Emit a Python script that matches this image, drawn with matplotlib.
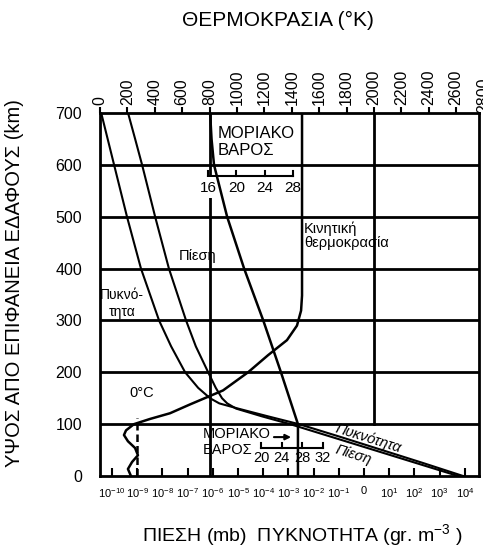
import matplotlib
matplotlib.use('Agg')
import matplotlib.pyplot as plt
from matplotlib.ticker import FixedLocator, FixedFormatter, NullLocator

plt.rcParams['font.family'] = ['Liberation Sans', 'DejaVu Sans']
plt.rcParams['mathtext.fontset'] = 'custom'
plt.rcParams['mathtext.rm'] = 'Liberation Sans'
plt.rcParams['mathtext.it'] = 'Liberation Sans:italic'
plt.rcParams['mathtext.bf'] = 'Liberation Sans:bold'

# axes scales
alt_ticks = [0, 100, 200, 300, 400, 500, 600, 700]
temp_ticks = list(range(0, 2801, 200))
p_exponents = list(range(-10, 5))
p_labels = ['0' if e == 0 else '$10^{%d}$' % e for e in p_exponents]

# kinetic temperature (K)
temp_alt = [0, 13.5, 27, 40, 54, 67, 79, 88, 100, 110, 121, 138, 165, 200, 233,
            262, 290, 319, 348, 700]
temp_k = [226, 204, 234, 277, 256, 204, 175, 190, 248, 365, 511, 657, 898, 1081,
          1227, 1365, 1438, 1468, 1475, 1475]

# pressure (mb)
pres_alt = [700, 650, 600, 500, 400, 300, 250, 200, 170, 150, 140, 130, 115, 100,
            75, 50, 25, 0]
pres_mb = [4.3e-10, 8.2e-10, 1.55e-9, 5.1e-9, 1.8e-8, 8.6e-8, 2.1e-7, 6.5e-7,
           1.3e-6, 2.3e-6, 3.7e-6, 8.3e-6, 8.9e-5, 1.16e-3, 5.4e-2, 2.5, 1.16e2, 5.4e3]

# density (g m-3)
dens_alt = [700, 600, 500, 400, 300, 250, 200, 170, 150, 140, 130, 115, 100, 75,
            50, 25, 0]
dens_gm3 = [3.7e-11, 1.2e-10, 3.9e-10, 1.4e-9, 7.3e-9, 2.2e-8, 7.9e-8, 2.6e-7,
            7.7e-7, 1.8e-6, 1.0e-5, 1.55e-4, 2.6e-3, 0.122, 5.2, 2.2e2, 8.5e3]

# mean molecular weight
mw_alt = [700, 650, 600, 500, 400, 300, 200, 100, 0]
mw = [16.3, 16.5, 16.85, 18.7, 21.1, 23.8, 26.3, 28.7, 28.7]
mw_upper_ticks = [16, 20, 24, 28]
mw_lower_ticks = [20, 24, 28, 32]

fig = plt.figure(figsize=(4.83, 5.48), dpi=100)
ax = fig.add_axes([100 / 483, 72 / 548, 379 / 483, 363 / 548])

# log pressure / density axis (bottom)
ax.set_xscale('log')
ax.set_xlim(10 ** -10.48, 10 ** 4.56)
ax.set_ylim(0, 700)
ax.xaxis.set_major_locator(FixedLocator([10.0 ** e for e in p_exponents]))
ax.xaxis.set_major_formatter(FixedFormatter(p_labels))
ax.xaxis.set_minor_locator(NullLocator())
ax.tick_params(axis='x', direction='in', length=6, width=1.5, labelsize=8, pad=7)
ax.set_yticks(alt_ticks)
ax.tick_params(axis='y', length=0, labelsize=11.5, pad=13)
for s in ax.spines.values():
    s.set_linewidth(2)

for a in alt_ticks[1:-1]:
    ax.axhline(a, color='k', lw=2, zorder=1)

ax.plot(pres_mb, pres_alt, color='k', lw=1.5, zorder=3)
ax.plot(dens_gm3, dens_alt, color='k', lw=1.5, zorder=3)
ax.text(1.44, 73, 'Πυκνότητα', rotation=-17.4, ha='center', va='center',
        fontsize=10.5, style='italic', rotation_mode='anchor')
ax.text(0.37, 40, 'Πίεση', rotation=-17.4, ha='center', va='center',
        fontsize=10.5, style='italic', rotation_mode='anchor')

# temperature axis (top)
axt = ax.twiny()
axt.set_xlim(0, 2767)
axt.set_xticks(temp_ticks[:-1])
axt.tick_params(axis='x', direction='out', length=4, width=1.5, labelsize=11.5,
                labelrotation=90, pad=2)
for s in axt.spines.values():
    s.set_visible(False)
axt.text(2800, 1.0, '2800', transform=axt.get_xaxis_transform(), rotation=90,
         ha='center', va='bottom', fontsize=11.5, clip_on=False)

axt.axvline(800, color='k', lw=2, zorder=1)
axt.axvline(2000, ymin=100 / 700, color='k', lw=2, zorder=1)
axt.plot(temp_k, temp_alt, color='k', lw=1.8, zorder=3)
axt.plot([273, 273], [0, 112], color='k', lw=1.8, linestyle=(0, (3, 1.6)), zorder=3)

axt.text(307, 160, '0°C', ha='center', va='center', fontsize=10.5)
axt.text(715, 425, 'Πίεση', ha='center', va='center', fontsize=10.5)
axt.text(161, 333, 'Πυκνό-\nτητα', ha='center', va='center', fontsize=10,
         linespacing=1.3)
axt.text(1489, 463, 'Κινητική\nθερμοκρασία', ha='left', va='center',
         fontsize=10.5, linespacing=1.05)
axt.text(861, 644, 'ΜΟΡΙΑΚΟ\nΒΑΡΟΣ', ha='left', va='center', fontsize=12,
         linespacing=1.15)
axt.text(752, 66, 'ΜΟΡΙΑΚΟ\nΒΑΡΟΣ', ha='left', va='center', fontsize=10.5,
         linespacing=1.15)
axt.annotate('', xy=(1395, 75), xytext=(1270, 75),
             arrowprops=dict(arrowstyle='-|>', lw=1.5, color='k',
                             mutation_scale=8, shrinkA=0, shrinkB=0))

# molecular weight, upper scale
axm = ax.twiny()
axm.axis('off')
axm.set_xlim(0.753, 54.26)
axm.plot(mw, mw_alt, color='k', lw=1.8, zorder=3)
axm.plot([mw_upper_ticks[0], mw_upper_ticks[-1]], [579, 579], color='k', lw=1.5)
for m in mw_upper_ticks:
    axm.plot([m, m], [579, 589], color='k', lw=1.5)
    axm.text(m, 556, str(m), ha='center', va='center', fontsize=11, zorder=2,
             bbox=dict(facecolor='white', edgecolor='none', pad=2.5)
             if m == mw_upper_ticks[0] else None)

# molecular weight, lower scale
axm2 = ax.twiny()
axm2.axis('off')
axm2.set_xlim(-11.16, 62.19)
axm2.plot([mw_lower_ticks[0], mw_lower_ticks[-1]], [54, 54], color='k', lw=1.5)
for m in mw_lower_ticks:
    axm2.plot([m, m], [54, 64], color='k', lw=1.5)
    axm2.text(m, 35, str(m), ha='center', va='center', fontsize=10.5)

fig.text(278 / 483, 1 - 20 / 548, 'ΘΕΡΜΟΚΡΑΣΙΑ (°K)', ha='center', va='center',
         fontsize=15)
fig.text(302 / 483, 1 - 535 / 548, 'ΠΙΕΣΗ (mb)  ΠΥΚΝΟΤΗΤΑ (gr. m$^{-3}$ )',
         ha='center', va='center', fontsize=14)
fig.text(15 / 483, 1 - 283 / 548, 'ΥΨΟΣ ΑΠΟ ΕΠΙΦΑΝΕΙΑ ΕΔΑΦΟΥΣ (km)', rotation=90,
         ha='center', va='center', fontsize=14.5)

fig.savefig('out.png', dpi=100)
